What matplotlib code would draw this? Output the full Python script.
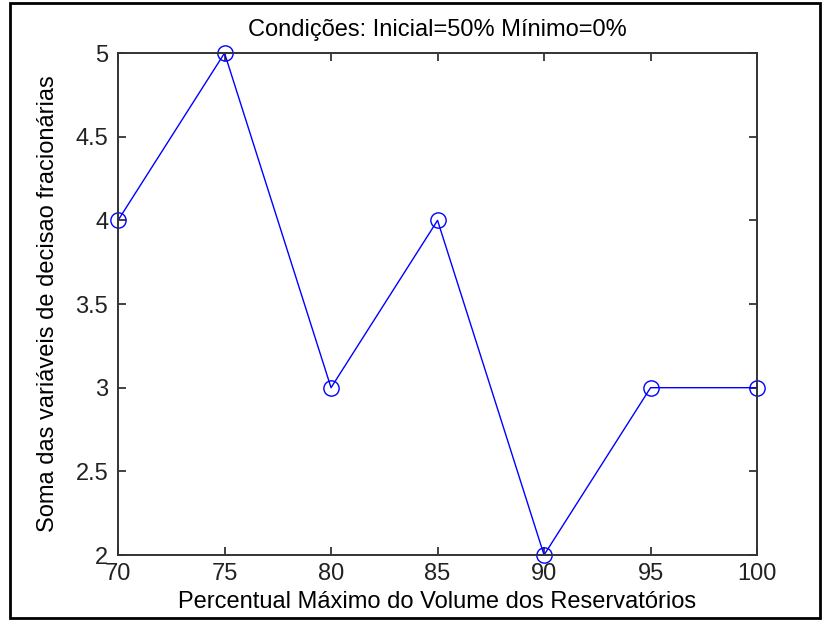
import matplotlib.pyplot as plt
from matplotlib.patches import Rectangle

# percentual maximo do volume x soma das variaveis fracionarias
volume_max = [70, 75, 80, 85, 90, 95, 100]
soma_frac = [4, 5, 3, 4, 2, 3, 3]

x_ticks = [70, 75, 80, 85, 90, 95, 100]
y_ticks = [2, 2.5, 3, 3.5, 4, 4.5, 5]
y_ticklabels = ['2', '2.5', '3', '3.5', '4', '4.5', '5']


def main():
    plt.rcParams['font.family'] = ['Liberation Sans', 'DejaVu Sans']

    fig = plt.figure(figsize=(8.22, 6.22), dpi=100)
    ax = fig.add_axes([0.1436, 0.1077, 0.7774, 0.807])

    ax.plot(volume_max, soma_frac, color='#0000ff', linewidth=1.0,
            marker='o', markersize=11, markerfacecolor='none',
            markeredgecolor='#0000ff', markeredgewidth=1.0, clip_on=False)

    ax.set_xlim(70, 100)
    ax.set_ylim(2, 5)
    ax.set_xticks(x_ticks)
    ax.set_yticks(y_ticks)
    ax.set_yticklabels(y_ticklabels)
    ax.tick_params(direction='in', length=6, width=1.2, top=True, right=True,
                   labelsize=17, colors='#222222', pad=7)
    ax.tick_params(axis='x', pad=6)
    for sp in ax.spines.values():
        sp.set_linewidth(1.4)
        sp.set_color('#333333')

    ax.set_title('Condições: Inicial=50% Mínimo=0%', fontsize=17, pad=12)
    ax.set_xlabel('Percentual Máximo do Volume dos Reservatórios', fontsize=17, labelpad=4)
    ax.set_ylabel('Soma das variáveis de decisao fracionárias', fontsize=17, labelpad=12)

    # moldura da figura
    fig.patches.append(Rectangle((0.012, 0.006), 0.986, 0.989, transform=fig.transFigure,
                                 fill=False, edgecolor='black', linewidth=2))

    fig.savefig('out.png', dpi=100)


if __name__ == '__main__':
    main()
